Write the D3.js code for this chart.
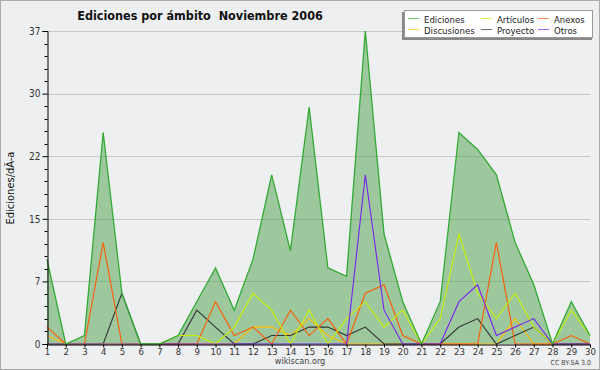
<!DOCTYPE html>
<html><head><meta charset="utf-8">
<script src="https://cdn.jsdelivr.net/npm/d3@7"></script>
<style>
html,body{margin:0;padding:0;background:#fff;}
svg{display:block;}
text{font-family:"DejaVu Sans Condensed","DejaVu Sans",sans-serif;}
</style></head><body>
<svg id="c" width="600" height="370"></svg>
<script>
const days = d3.range(1, 31);
const ediciones   = [10,0,1,25,6,0,0,1,5,9,4,10,20,11,28,9,8,37,13,5,0,5,25,23,20,12,7,0,5,1];
const articulos   = [0,0,0,0,0,0,0,1,1,0,2,6,4,0,4,0,3,5,2,4,0,3,13,6,3,6,2,0,4,1];
const anexos      = [2,0,0,12,0,0,0,0,0,5,1,2,0,4,1,3,0,6,7,1,0,0,0,0,12,0,0,0,1,0];
const discusiones = [1,0,0,0,0,0,0,0,0,0,0,2,2,1,3,1,0,0,0,0,0,0,0,0,0,3,0,0,0,0];
const proyecto    = [0,0,0,0,6,0,0,0,4,2,0,0,1,1,2,2,1,2,0,0,0,0,2,3,0,1,2,0,0,0];
const otros       = [0,0,0,0,0,0,0,0,0,0,0,0,0,0,0,0,0,20,4,0,0,0,5,7,1,2,3,0,0,0];
const yTickValues = [0, 7.4, 14.8, 22.2, 29.6, 37];
const yTickLabels = ["0","7","15","22","30","37"];
const seriesNames = ["Ediciones","Artículos","Anexos","Discusiones","Proyecto","Otros"];
const seriesColors = ["#33aa33","#c8f000","#ff5a00","#ffc000","#333333","#7722ee"];
const seriesData = [ediciones, articulos, anexos, discusiones, proyecto, otros];

const svg = d3.select("#c");
svg.append("rect").attr("x",0.5).attr("y",0.5).attr("width",599).attr("height",369)
  .attr("fill","#eeeff0").attr("stroke","#aaaaaa");

const x = d3.scaleLinear().domain([1,30]).range([47,590]);
const y = d3.scaleLinear().domain([0,37]).range([344,31]);

// gridlines
svg.append("g").selectAll("line").data(yTickValues.slice(1)).join("line")
  .attr("x1",47).attr("x2",590).attr("y1",d=>Math.round(y(d))+0.5).attr("y2",d=>Math.round(y(d))+0.5)
  .attr("stroke","#c8c8c8").attr("stroke-width",1);

// area
const area = d3.area().x((d,i)=>x(days[i])).y0(y(0)).y1(d=>y(d));
svg.append("path").datum(ediciones).attr("d",area).attr("fill","#3a9a3a").attr("fill-opacity",0.45);

// lines
const line = d3.line().x((d,i)=>x(days[i])).y(d=>y(d));
const order = [3,4,2,1,5,0];
order.forEach(k=>{
  svg.append("path").datum(seriesData[k]).attr("d",line).attr("fill","none")
    .attr("stroke",seriesColors[k]).attr("stroke-width",k===0?1.3:1.1);
});

// y axis
const yAxis = d3.axisLeft(y).tickValues(yTickValues).tickFormat((d,i)=>yTickLabels[i]).tickSize(5).tickPadding(2);
const gy = svg.append("g").attr("transform","translate(47.5,0)").call(yAxis);
gy.select(".domain").attr("stroke","#000");
gy.selectAll("text").attr("font-size",10).attr("fill","#333");
const minor = d3.range(0, 37.01, 1.48).filter(v=>!yTickValues.some(t=>Math.abs(t-v)<0.01));
svg.append("g").selectAll("line").data(minor).join("line")
  .attr("x1",44.5).attr("x2",47.5).attr("y1",d=>Math.round(y(d))+0.5).attr("y2",d=>Math.round(y(d))+0.5)
  .attr("stroke","#000");

// x axis
const xAxis = d3.axisBottom(x).tickValues(days).tickFormat(d3.format("d")).tickSize(3).tickPadding(1);
const gx = svg.append("g").attr("transform","translate(0,344.5)").call(xAxis);
gx.select(".domain").attr("stroke","#000");
gx.selectAll("text").attr("font-size",9.5).attr("fill","#333");

// title
svg.append("text").attr("x",200).attr("y",20).attr("text-anchor","middle")
  .attr("font-size",12.5).attr("font-weight","bold").attr("fill","#111")
  .attr("xml:space","preserve").style("white-space","pre")
  .text("Ediciones por ámbito  Noviembre 2006");

// y label
svg.append("text").attr("transform","translate(14,188) rotate(-90)").attr("text-anchor","middle")
  .attr("font-size",11).attr("fill","#111").text("Ediciones/dÃ-a");

// footer
svg.append("text").attr("x",300).attr("y",364).attr("text-anchor","middle")
  .attr("font-size",9).attr("fill","#444").text("wikiscan.org");
svg.append("text").attr("x",591).attr("y",365).attr("text-anchor","end")
  .attr("font-size",7).attr("fill","#444").text("CC BY-SA 3.0");

// legend
const lg = svg.append("g");
lg.append("rect").attr("x",402).attr("y",12).attr("width",190).attr("height",28).attr("fill","#888");
lg.append("rect").attr("x",404.5).attr("y",10.5).attr("width",188).attr("height",27).attr("fill","#fff").attr("stroke","#999");
const legCols = [[0,3],[1,4],[2,5]];
const colX = [408, 481, 538];
const rowY = [19, 30];
legCols.forEach((col,ci)=>{
  col.forEach((k,ri)=>{
    lg.append("line").attr("x1",colX[ci]).attr("x2",colX[ci]+11).attr("y1",rowY[ri]-0.5).attr("y2",rowY[ri]-0.5)
      .attr("stroke",seriesColors[k]).attr("stroke-width",1).attr("stroke-opacity",0.7);
    lg.append("text").attr("x",colX[ci]+16).attr("y",rowY[ri]+3.5).attr("font-size",9.5).attr("fill","#222")
      .text(seriesNames[k]);
  });
});
</script>
</body></html>
